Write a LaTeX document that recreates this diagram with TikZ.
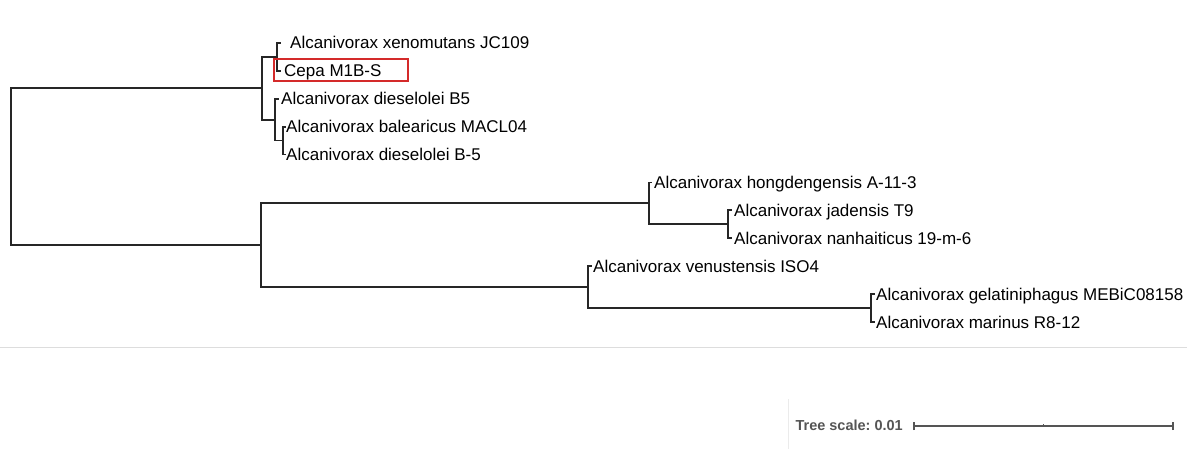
\documentclass[tikz,border=0pt]{standalone}
\usepackage{fontspec}
\setmainfont{Liberation Sans}
\frenchspacing
\definecolor{treeline}{HTML}{262626}
\definecolor{hlred}{HTML}{D42A2A}
\definecolor{scalegray}{HTML}{555555}
\definecolor{rulegray}{HTML}{DDDDDD}
\begin{document}
\begin{tikzpicture}[x=1pt,y=-1pt,
  branch/.style={draw=treeline, line width=1.8pt},
  leaflabel/.style={anchor=base west, inner sep=0pt, text=black,
    font=\fontsize{17}{17}\selectfont},
  hlbox/.style={draw=hlred, line width=1.6pt, anchor=north west,
    minimum width=134, minimum height=22, inner sep=0pt},
  scalebar/.style={draw=scalegray, line width=1.3pt},
  rule/.style={draw=rulegray, line width=1pt}]
\useasboundingbox (0,0) rectangle (1187,449);

% internal nodes
\coordinate (root) at (11,166.8);
\coordinate (nA)   at (262,88.4);
\coordinate (nA1)  at (277,57);
\coordinate (nA2)  at (275,119.7);
\coordinate (nA3)  at (283,140.6);
\coordinate (nB)   at (261,245.2);
\coordinate (nB1)  at (649,203.4);
\coordinate (nB2)  at (728,224.3);
\coordinate (nB3)  at (588,287);
\coordinate (nB4)  at (871,308);

% leaf tips
\coordinate (l1)  at (281,43);
\coordinate (l2)  at (281,70.9);
\coordinate (l3)  at (279,98.8);
\coordinate (l4)  at (286,126.7);
\coordinate (l5)  at (286,154.6);
\coordinate (l6)  at (652,182.5);
\coordinate (l7)  at (732,210.4);
\coordinate (l8)  at (732,238.3);
\coordinate (l9)  at (592,266.2);
\coordinate (l10) at (875,294.1);
\coordinate (l11) at (875,322);

% branches
\draw[branch] (root) |- (nA);
\draw[branch] (root) |- (nB);
\draw[branch] (nA) |- (nA1);
\draw[branch] (nA) |- (nA2);
\draw[branch] (nA1) |- (l1);
\draw[branch] (nA1) |- (l2);
\draw[branch] (nA2) |- (l3);
\draw[branch] (nA2) |- (nA3);
\draw[branch] (nA3) |- (l4);
\draw[branch] (nA3) |- (l5);
\draw[branch] (nB) |- (nB1);
\draw[branch] (nB) |- (nB3);
\draw[branch] (nB1) |- (l6);
\draw[branch] (nB1) |- (nB2);
\draw[branch] (nB2) |- (l7);
\draw[branch] (nB2) |- (l8);
\draw[branch] (nB3) |- (l9);
\draw[branch] (nB3) |- (nB4);
\draw[branch] (nB4) |- (l10);
\draw[branch] (nB4) |- (l11);

% leaf labels
\node[leaflabel] (t1)  at (290,49)    {Alcanivorax xenomutans JC109};
\node[leaflabel] (t2)  at (284,76.9)  {Cepa M1B-S};
\node[leaflabel] (t3)  at (281,104.8) {Alcanivorax dieselolei B5};
\node[leaflabel] (t4)  at (286,132.7) {Alcanivorax balearicus MACL04};
\node[leaflabel] (t5)  at (286,160.6) {Alcanivorax dieselolei B-5};
\node[leaflabel] (t6)  at (654,188.5) {Alcanivorax hongdengensis A-11-3};
\node[leaflabel] (t7)  at (734,216.4) {Alcanivorax jadensis T9};
\node[leaflabel] (t8)  at (734,244.3) {Alcanivorax nanhaiticus 19-m-6};
\node[leaflabel] (t9)  at (593,272.2) {Alcanivorax venustensis ISO4};
\node[leaflabel] (t10) at (876,300.1) {Alcanivorax gelatiniphagus MEBiC08158};
\node[leaflabel] (t11) at (876,328)   {Alcanivorax marinus R8-12};

% highlighted strain
\node[hlbox] (hl) at (273,58) {};

% separators
\coordinate (ruleL) at (0,347.5);
\coordinate (ruleR) at (1187,347.5);
\draw[rule] (ruleL) -- (ruleR);
\coordinate (vruleT) at (788,399);
\coordinate (vruleB) at (788,449);
\draw[rule, draw=rulegray!60] (vruleT) -- (vruleB);

% tree scale
\coordinate (s0) at (914,426);
\coordinate (sm) at (1043.5,426);
\coordinate (s1) at (1173,426);
\draw[scalebar] (s0) -- (s1);
\draw[scalebar] ([yshift=-4]s0) -- ([yshift=4]s0);
\draw[scalebar] ([yshift=-4]s1) -- ([yshift=4]s1);
\draw[scalebar] (sm) -- ([yshift=2.5]sm);
\node[anchor=base east, inner sep=0pt, text=scalegray,
  font=\bfseries\fontsize{14.5}{14.5}\selectfont] (scaletext) at (903,430.5) {Tree scale: 0.01};
\end{tikzpicture}
\end{document}
